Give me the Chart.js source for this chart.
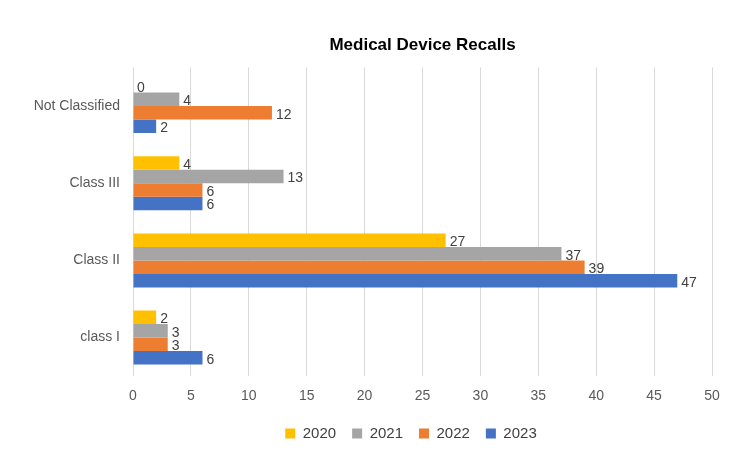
<!DOCTYPE html>
<html>
<head>
<meta charset="utf-8">
<script src="https://cdn.jsdelivr.net/npm/chart.js@4/dist/chart.umd.min.js"></script>
<style>
html,body{margin:0;padding:0;background:#fff;}
#wrap{width:750px;height:471px;}
</style>
</head>
<body>
<div id="wrap"><canvas id="c" width="750" height="471"></canvas></div>
<script>
const categories = ["Not Classified", "Class III", "Class II", "class I"];
const seriesNames = ["2020", "2021", "2022", "2023"];
const values2020 = [0, 4, 27, 2];
const values2021 = [4, 13, 37, 3];
const values2022 = [12, 6, 39, 3];
const values2023 = [2, 6, 47, 6];
const xTicks = [0, 5, 10, 15, 20, 25, 30, 35, 40, 45, 50];

const colors = ["#FFC000", "#A5A5A5", "#ED7D31", "#4472C4"];
const allValues = [values2020, values2021, values2022, values2023];
const FONT = "'Liberation Sans', Arial, sans-serif";

const labelPlugin = {
  id: 'valueLabels',
  afterDatasetsDraw(chart) {
    const ctx = chart.ctx;
    ctx.save();
    ctx.font = "14px " + FONT;
    ctx.fillStyle = "#404040";
    ctx.textAlign = "left";
    ctx.textBaseline = "middle";
    chart.data.datasets.forEach((ds, i) => {
      const meta = chart.getDatasetMeta(i);
      meta.data.forEach((bar, j) => {
        ctx.fillText(String(ds.data[j]), bar.x + 4, bar.y + 2);
      });
    });
    ctx.restore();
  }
};

const legendShift = {
  id: 'legendShift',
  afterLayout(chart) {
    const lg = chart.legend;
    if (lg) { lg.left += 55; lg.right += 55; }
  }
};

new Chart(document.getElementById('c'), {
  type: 'bar',
  data: {
    labels: categories,
    datasets: seriesNames.map((n, i) => ({
      label: n,
      data: allValues[i],
      backgroundColor: colors[i],
      borderWidth: 0,
      categoryPercentage: 0.7,
      barPercentage: 1.0
    }))
  },
  options: {
    indexAxis: 'y',
    responsive: false,
    animation: false,
    layout: { padding: { top: 35, right: 38, bottom: 20, left: 0 } },
    scales: {
      x: {
        min: 0, max: 50,
        afterBuildTicks(axis) { axis.ticks = xTicks.map(v => ({ value: v })); },
        grid: { color: "#d9d9d9", drawTicks: false },
        border: { display: false },
        ticks: { color: "#595959", font: { family: FONT, size: 14 }, padding: 12 },
        afterFit(axis) { axis.height -= 7; }
      },
      y: {
        grid: { display: false, drawTicks: false },
        border: { display: false },
        ticks: { color: "#595959", font: { family: FONT, size: 14 }, padding: 13 },
        afterFit(axis) { axis.width = 133; }
      }
    },
    plugins: {
      title: {
        display: true,
        text: "Medical Device Recalls",
        fullSize: false,
        color: "#000",
        font: { family: FONT, size: 17, weight: 'bold' },
        padding: { top: 0, bottom: 12 }
      },
      legend: {
        position: 'bottom',
        labels: {
          boxWidth: 10, boxHeight: 10,
          color: "#404040",
          font: { family: FONT, size: 15 },
          padding: 16
        }
      },
      tooltip: { enabled: false }
    }
  },
  plugins: [labelPlugin, legendShift]
});
</script>
</body>
</html>
